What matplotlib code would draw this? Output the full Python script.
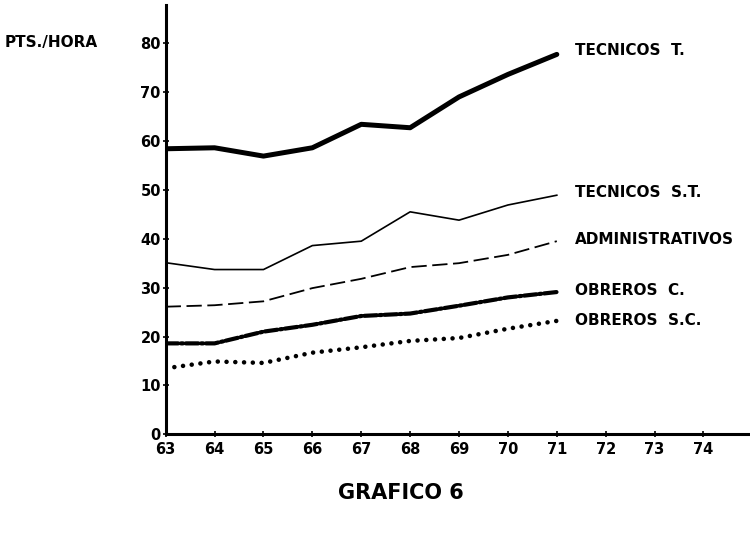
import matplotlib
matplotlib.use("Agg")
import matplotlib.pyplot as plt

plt.rcParams['lines.scale_dashes'] = False
plt.rcParams['font.family'] = ['DejaVu Sans']

years = [63, 64, 65, 66, 67, 68, 69, 70, 71]
tecnicos_t = [58.4, 58.6, 56.9, 58.6, 63.4, 62.7, 69.0, 73.6, 77.7]
tecnicos_st = [35.1, 33.7, 33.7, 38.6, 39.5, 45.5, 43.8, 46.9, 48.9]
administrativos = [26.1, 26.4, 27.2, 29.9, 31.8, 34.2, 35.0, 36.7, 39.5]
obreros_c = [18.6, 18.6, 21.0, 22.4, 24.2, 24.7, 26.3, 28.0, 29.1]
obreros_sc = [13.5, 14.9, 14.6, 16.7, 17.8, 19.1, 19.7, 21.6, 23.2]

series_labels = ["TECNICOS  T.", "TECNICOS  S.T.", "ADMINISTRATIVOS", "OBREROS  C.", "OBREROS  S.C."]
label_y = [78.5, 49.5, 39.8, 29.4, 23.3]
xticks = list(range(63, 75))
yticks = list(range(0, 81, 10))

fig = plt.figure(figsize=(7.5, 5.38), dpi=100)
ax = fig.add_axes([0.2209, 0.1927, 0.779, 0.798])

ax.plot(years, tecnicos_t, color='black', lw=3.6, solid_capstyle='round', solid_joinstyle='round')
ax.plot(years, tecnicos_st, color='black', lw=1.2)
ax.plot(years, administrativos, color='black', lw=1.3, dashes=(11, 4))
ax.plot(years, obreros_c, color='black', lw=3.0, dashes=(9, 2, 1.5, 2), dash_capstyle='round')
ax.plot(years, obreros_sc, color='black', lw=3.3, dashes=(0.01, 6.3), dash_capstyle='round')

for lab, yv in zip(series_labels, label_y):
    ax.text(71.37, yv, lab, fontsize=11, fontweight='bold', va='center', ha='left', clip_on=False)

ax.set_xlim(63, 74.95)
ax.set_ylim(0, 87.8)
ax.set_xticks(xticks)
ax.set_xticklabels([str(t) for t in xticks])
ax.set_yticks(yticks)
ax.set_yticklabels([str(t) for t in yticks])

for s in ['top', 'right']:
    ax.spines[s].set_visible(False)
for s in ['left', 'bottom']:
    ax.spines[s].set_linewidth(2.2)

ax.tick_params(axis='both', direction='inout', length=5, width=1.2, labelsize=10.5)
ax.tick_params(axis='x', pad=3)
ax.tick_params(axis='y', pad=1)
for t in ax.get_xticklabels() + ax.get_yticklabels():
    t.set_fontweight('bold')

fig.text(5 / 750, 1 - 43 / 538, "PTS./HORA", fontsize=11, fontweight='bold', va='center', ha='left')
fig.text(401 / 750, 1 - 493 / 538, "GRAFICO 6", fontsize=15, fontweight='bold', va='center', ha='center')

fig.savefig("out.png", dpi=100)
